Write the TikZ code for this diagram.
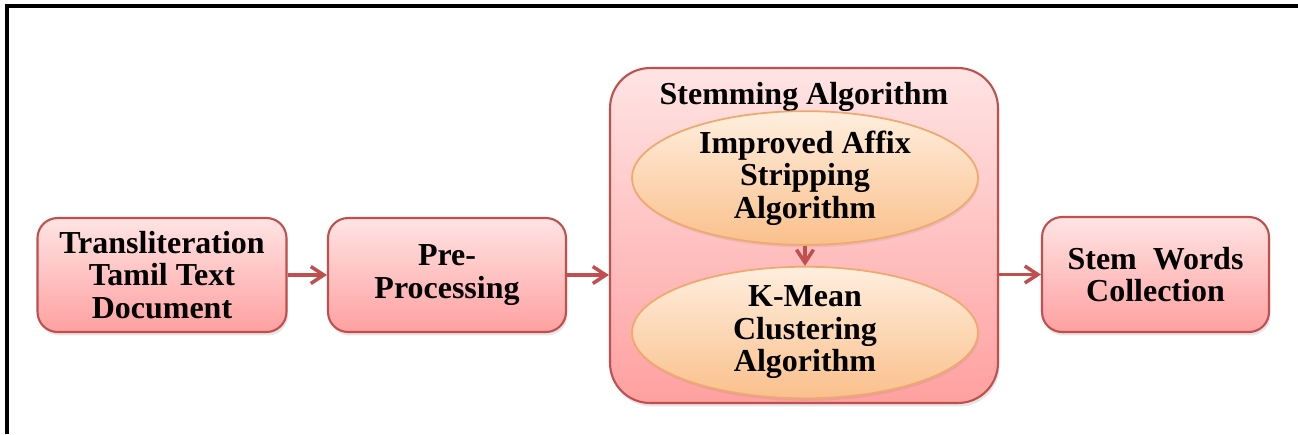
\documentclass[tikz,border=0pt]{standalone}
\usepackage{fontspec}
\setmainfont{Liberation Serif}
\usetikzlibrary{arrows.meta,shapes.geometric,shadows}

\definecolor{boxline}{RGB}{192,80,77}
\definecolor{boxtop}{RGB}{255,228,228}
\definecolor{boxbot}{RGB}{255,160,160}
\definecolor{elltop}{RGB}{255,238,222}
\definecolor{ellbot}{RGB}{250,192,140}
\definecolor{ellline}{RGB}{238,170,110}

\tikzset{
 stepbox/.style={draw=boxline,line width=1.2pt,rounded corners=0.4cm,
   top color=boxtop,bottom color=boxbot,align=center,
   font=\fontsize{18.2}{18.5}\selectfont\bfseries,
   drop shadow={opacity=0.2,shadow xshift=0.03cm,shadow yshift=-0.07cm}},
 stepell/.style={ellipse,draw=ellline,line width=1pt,
   top color=elltop,bottom color=ellbot,align=center,
   minimum width=6.92cm,inner sep=0pt,
   font=\fontsize{18.2}{18.5}\selectfont\bfseries,
   drop shadow={opacity=0.15,shadow xshift=0.02cm,shadow yshift=-0.05cm}},
 flow/.style={-{Straight Barb[length=0.26cm,width=0.34cm,line width=2pt]},
   draw=boxline,line width=2.2pt}
}

\begin{document}
\begin{tikzpicture}[x=0.02cm,y=-0.02cm]
 \useasboundingbox (0,0) rectangle (1298,434);
 % frame
 \draw[line width=2.2pt] (7,434)--(7,6)--(1298,6);
 % boxes
 \node[stepbox,minimum width=4.98cm,minimum height=2.28cm] (doc) at (162,275)
   {Transliteration\\Tamil Text\\Document};
 \node[stepbox,minimum width=4.76cm,minimum height=2.28cm] (pre) at (447,275)
   {Pre-\\Processing};
 \node[stepbox,rounded corners=0.8cm,minimum width=7.76cm,minimum height=6.7cm] (stem) at (804,235.5) {};
 \node[font=\fontsize{18.2}{18.5}\selectfont\bfseries] (title) at (804,97) {Stemming Algorithm};
 \node[stepbox,minimum width=4.54cm,minimum height=2.3cm] (out) at (1155.5,274.5)
   {Stem~~Words\\Collection};
 % ellipses
 \node[stepell,minimum height=2.26cm] (affix) at (805,178)
   {Improved Affix\\Stripping\\Algorithm};
 \node[stepell,minimum height=2.42cm] (kmean) at (805,332.5)
   {K-Mean\\Clustering\\Algorithm};
 % arrows
 \draw[flow] (doc.east) -- (pre.west);
 \draw[flow] (pre.east) -- (stem.west |- pre.east);
 \draw[flow] (affix.south) -- (kmean.north);
 \draw[flow] (stem.east |- out.west) -- (out.west);
\end{tikzpicture}
\end{document}
